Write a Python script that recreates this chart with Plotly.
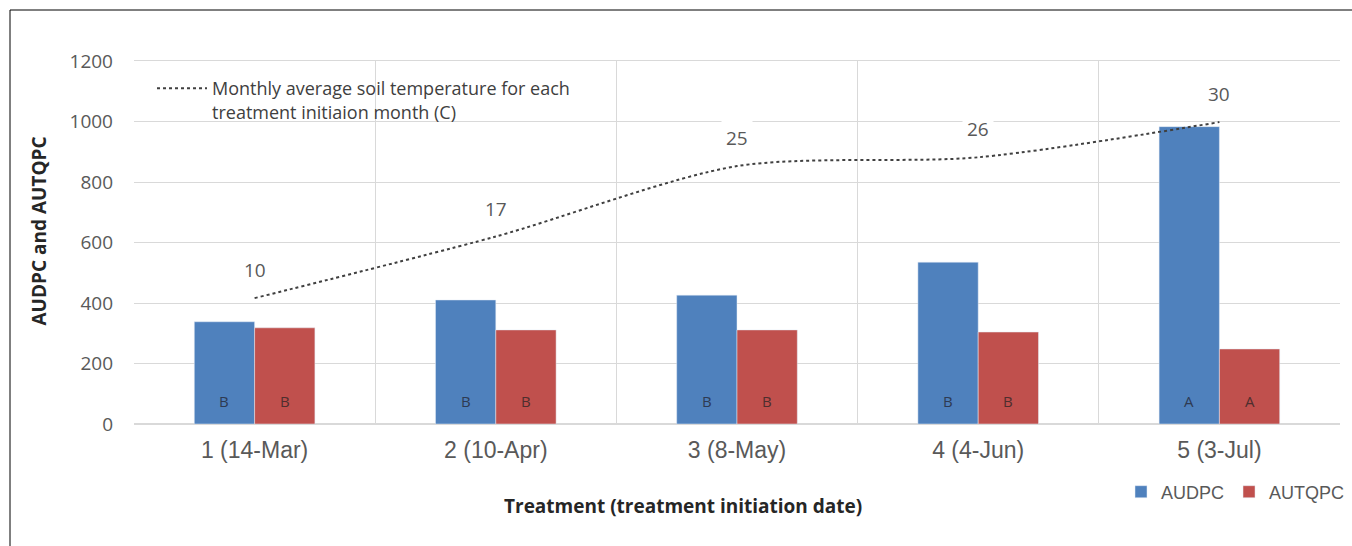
import plotly.graph_objects as go

categories = ["1 (14-Mar)", "2 (10-Apr)", "3 (8-May)", "4 (4-Jun)", "5 (3-Jul)"]
audpc = [338, 410, 426, 535, 983]
autqpc = [318, 311, 311, 304, 248]
soil_temp = [10, 17, 25, 26, 30]
audpc_letters = ["B", "B", "B", "B", "A"]
autqpc_letters = ["B", "B", "B", "B", "A"]

BLUE = "#4F81BD"
RED = "#C0504D"
GRID = "#D9D9D9"
TXT = "#595959"

# paper: x from 134 px to 1352 px (1218 px), y from 424 px (0) to 61 px (1)
PW = 1218.0
PH = 363.0
def px(xp):
    return (xp - 134) / PW
def py(yp):
    return (424 - yp) / PH

fig = go.Figure()
fig.add_trace(go.Bar(x=categories, y=audpc, name="AUDPC", marker_color=BLUE,
                     legend="legend"))
fig.add_trace(go.Bar(x=categories, y=autqpc, name="AUTQPC", marker_color=RED,
                     legend="legend"))
fig.add_trace(go.Scatter(
    x=categories, y=soil_temp, yaxis="y2", mode="lines",
    line=dict(color="#404040", width=2, dash="dot", shape="spline", smoothing=0.8),
    name="Monthly average soil temperature for each<br>treatment initiaion month (C)",
    legend="legend2"))

annotations = []
for i, t in enumerate(soil_temp):
    annotations.append(dict(x=i, y=t, xref="x", yref="y2", text=str(t), showarrow=False,
                            yshift=28, font=dict(family="Open Sans", size=19, color=TXT),
                            bgcolor="white", borderpad=4))
for i, (a, b) in enumerate(zip(audpc_letters, autqpc_letters)):
    annotations.append(dict(x=i - 0.125, y=0, xref="x", yref="y", text=a, showarrow=False,
                            yshift=23, font=dict(family="Open Sans", size=15, color="#2E3A52")))
    annotations.append(dict(x=i + 0.125, y=0, xref="x", yref="y", text=b, showarrow=False,
                            yshift=23, font=dict(family="Open Sans", size=15, color="#4E2E2E")))
annotations.append(dict(x=px(38.5), y=py(231), xref="paper", yref="paper",
                        text="<b>AUDPC and AUTQPC</b>",
                        textangle=-90, showarrow=False, xanchor="center", yanchor="middle",
                        font=dict(family="Open Sans", size=19, color="#262626")))
annotations.append(dict(x=px(683), y=py(506), xref="paper", yref="paper",
                        text="<b>Treatment (treatment initiation date)</b>",
                        showarrow=False, xanchor="center", yanchor="middle",
                        font=dict(family="Open Sans", size=19, color="#262626")))

shapes = [
    dict(type="rect", xref="paper", yref="paper", x0=px(136), x1=px(580), y0=py(142), y1=py(64),
         fillcolor="white", line=dict(width=0), layer="between"),
    dict(type="line", xref="paper", yref="paper", x0=px(10), x1=1.02, y0=py(10), y1=py(10),
         line=dict(color="black", width=1)),
    dict(type="line", xref="paper", yref="paper", x0=px(10), x1=px(10), y0=py(10), y1=py(560),
         line=dict(color="black", width=1)),
]

fig.update_layout(
    width=1352, height=546,
    margin=dict(l=134, r=0, t=61, b=122),
    paper_bgcolor="white", plot_bgcolor="white",
    barmode="group", bargap=0.5, bargroupgap=0,
    xaxis=dict(type="category", tickson="boundaries", showgrid=True, gridcolor=GRID,
               showline=True, mirror=True, linecolor=GRID, ticks="",
               domain=[0, 1206 / PW],
               tickfont=dict(family="Liberation Sans", size=23, color=TXT),
               ticklabelstandoff=5, range=[-0.5, 4.5]),
    yaxis=dict(range=[0, 1200], dtick=200, showgrid=True, gridcolor=GRID, zeroline=True,
               zerolinecolor=GRID, showline=False, ticks="",
               tickfont=dict(family="Open Sans", size=19, color=TXT), ticklabelstandoff=20),
    yaxis2=dict(range=[-4.30, 36.94], overlaying="y", side="right", visible=False),
    legend=dict(orientation="h", x=px(1121), y=py(492), xanchor="left", yanchor="middle",
                font=dict(family="Liberation Sans", size=18, color=TXT), itemwidth=30,
                traceorder="normal", bgcolor="rgba(0,0,0,0)"),
    legend2=dict(x=px(152), y=py(70), xanchor="left", yanchor="top", valign="top",
                 font=dict(family="Open Sans", size=18, color="#404040"), itemwidth=50,
                 bgcolor="rgba(0,0,0,0)"),
    annotations=annotations,
    shapes=shapes,
    showlegend=True,
)

fig.write_html("out.html", config={"displayModeBar": False},
               post_script="document.body.style.margin='0';")
